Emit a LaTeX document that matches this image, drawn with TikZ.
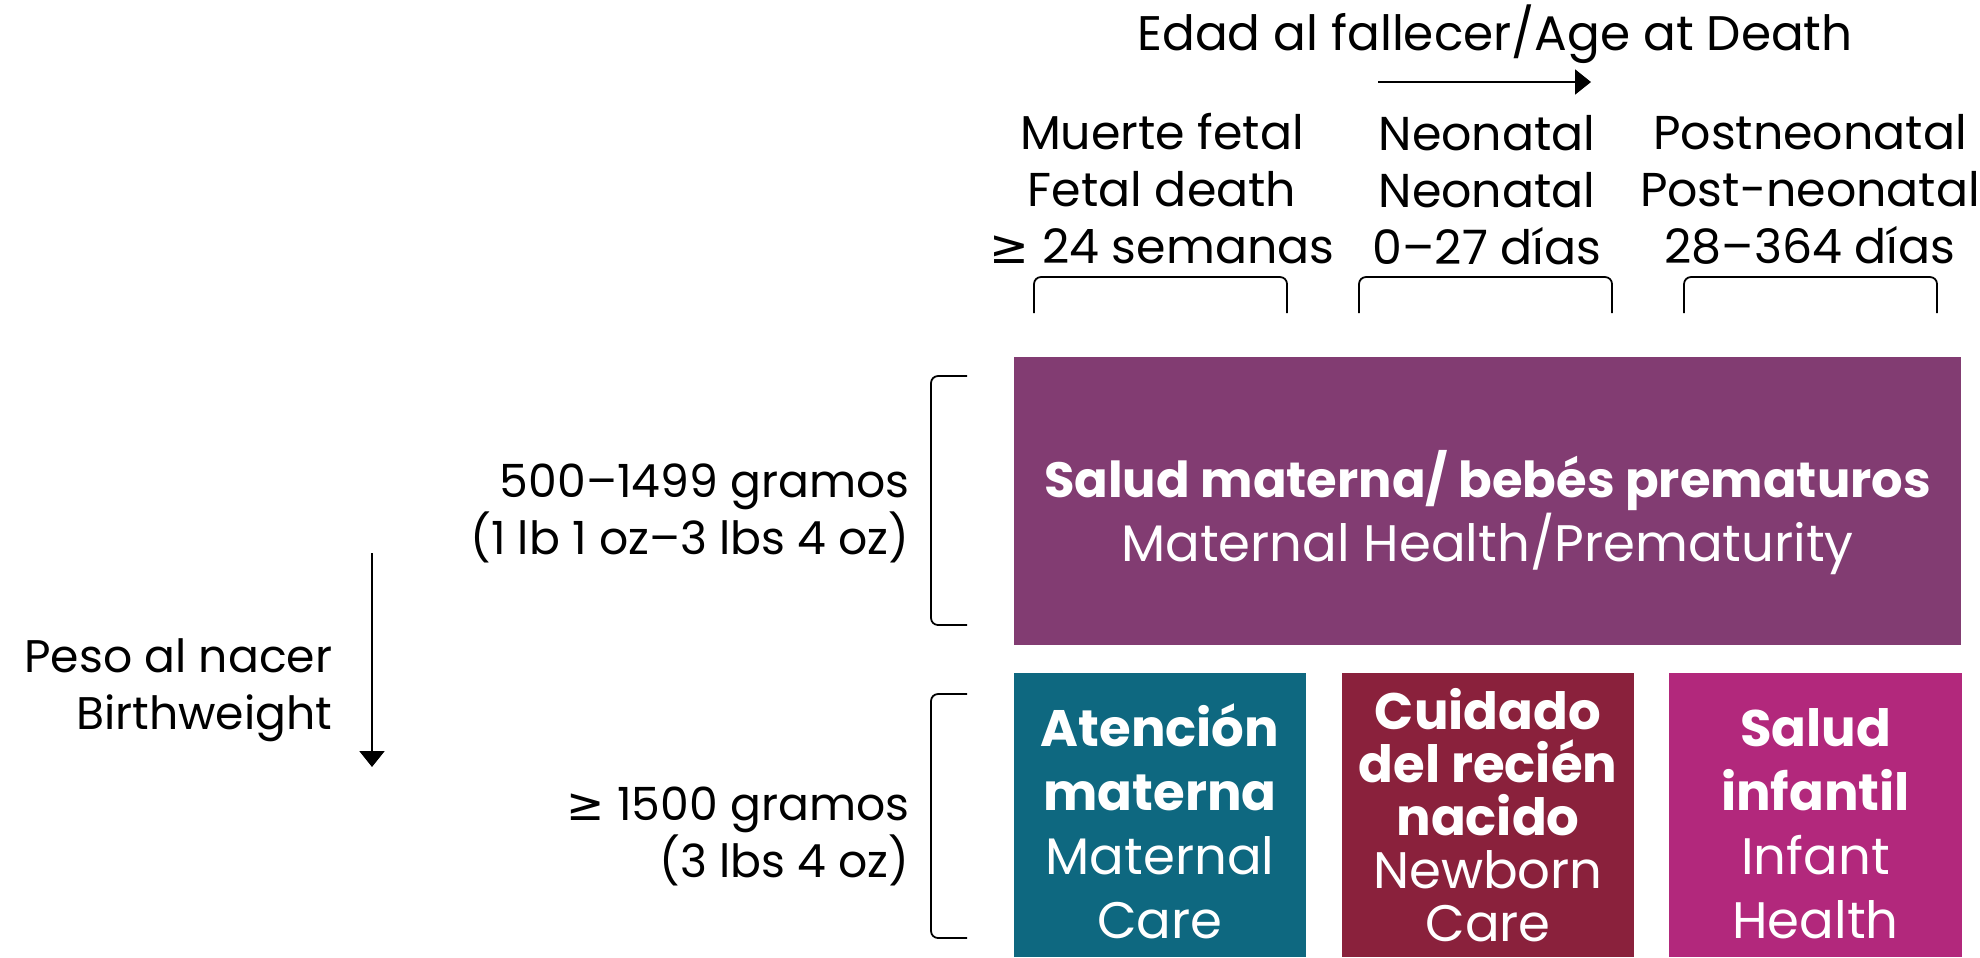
\documentclass[tikz,border=0pt]{standalone}
\usepackage{fontspec}
\setmainfont{Poppins}
\newfontfamily\symfont{DejaVu Sans}
\usepackage{tikz}
\usetikzlibrary{arrows.meta}
\usetikzlibrary{positioning}

\definecolor{lila}{RGB}{130,60,114}
\definecolor{petrol}{RGB}{14,104,128}
\definecolor{weinrot}{RGB}{138,33,60}
\definecolor{magenta2}{RGB}{178,40,124}

\newcommand{\gq}{{\symfont ≥}}

\tikzset{
  txt/.style={font=\fontsize{13.5}{16.2}\selectfont, align=center, inner sep=0pt},
  txtr/.style={txt, font=\fontsize{13}{16.2}\selectfont, align=right, anchor=east},
  kasten/.style={inner sep=0pt, minimum width=2.92cm, minimum height=2.84cm},
  kastentxt/.style={inner sep=0pt, text=white, align=center, font=\fontsize{14.6}{18.2}\selectfont},
  klammer/.style={line width=0.5pt, rounded corners=2pt},
  pfeil/.style={line width=0.7pt, -{Triangle[length=4.5pt,width=7pt]}}
}

\begin{document}
\begin{tikzpicture}[x=0.01cm,y=-0.01cm]
    		\useasboundingbox (0,0) rectangle (1980,957);
    		% Titel und Pfeil oben
    		\node[txt, font=\fontsize{13.8}{16.2}\selectfont, anchor=base] (edad) at (1495,50) {Edad al fallecer/Age at Death};
    		\coordinate (edadA) at (1378,82);
    		\coordinate (edadB) at (1591,82);
    		\draw[pfeil] (edadA) -- (edadB);
    		
    		% Spalten
    		\node[txt] (fetal) at (1162,189) {Muerte fetal\\Fetal death\\\gq{} 24 semanas};
    		\node[txt] (neo) at (1487,190) {Neonatal\\Neonatal\\0–27 días};
    		\node[txt] (post) at (1810,189) {Postneonatal\\Post-neonatal\\28–364 días};
    		
    		\draw[klammer] (1034,313) -- (1034,277) -- (1287,277) -- (1287,313);
    		\draw[klammer] (1359,313) -- (1359,277) -- (1612,277) -- (1612,313);
    		\draw[klammer] (1684,313) -- (1684,277) -- (1937,277) -- (1937,313);
    		
    		% Kaesten
    		\node[kasten, fill=lila, minimum width=9.47cm, minimum height=2.88cm] (praem) at (1487.5,501) {};
    		\node[kastentxt] (praemT) at (1487.5,513)
    		  {{\fontsize{14.1}{18.2}\selectfont\bfseries Salud materna/ bebés prematuros}\\
    		   {\fontsize{14.6}{18.2}\selectfont Maternal Health/Prematurity}};
    		
    		\node[kasten, fill=petrol] (mutter) at (1160,815) {};
    		\node[kasten, fill=weinrot] (neugeb) at (1488,815) {};
    		\node[kasten, fill=magenta2] (kind) at (1815.5,815) {};
    		
    		\node[kastentxt] (mutterT) at (1160,821) {\textbf{Atención}\\\textbf{materna}\\Maternal\\Care};
    		\node[kastentxt, font=\fontsize{14.6}{15.1}\selectfont] (neugebT) at (1488,815)
    		  {\textbf{Cuidado}\\\textbf{del recién}\\\textbf{nacido}\\Newborn\\Care};
    		\node[kastentxt] (kindT) at (1815.5,824) {\textbf{Salud}\\\textbf{infantil}\\Infant\\Health};
    		
    		% Geburtsgewicht links
    		\node[txtr] (peso) at (333,690) {Peso al nacer\\Birthweight};
    		\coordinate (pesoA) at (372,553);
    		\coordinate (pesoB) at (372,767);
    		\draw[pfeil] (pesoA) -- (pesoB);
    		
    		\node[txtr] (leicht) at (910,513) {500–1499 gramos\\(1 lb 1 oz–3 lbs 4 oz)};
    		\node[txtr] (schwer) at (910,836) {\gq{} 1500 gramos\\(3 lbs 4 oz)};
    		
    		\draw[klammer] (967,376) -- (931,376) -- (931,625) -- (967,625);
    		\draw[klammer] (967,694) -- (931,694) -- (931,938) -- (967,938);
    		
\end{tikzpicture}
\end{document}
